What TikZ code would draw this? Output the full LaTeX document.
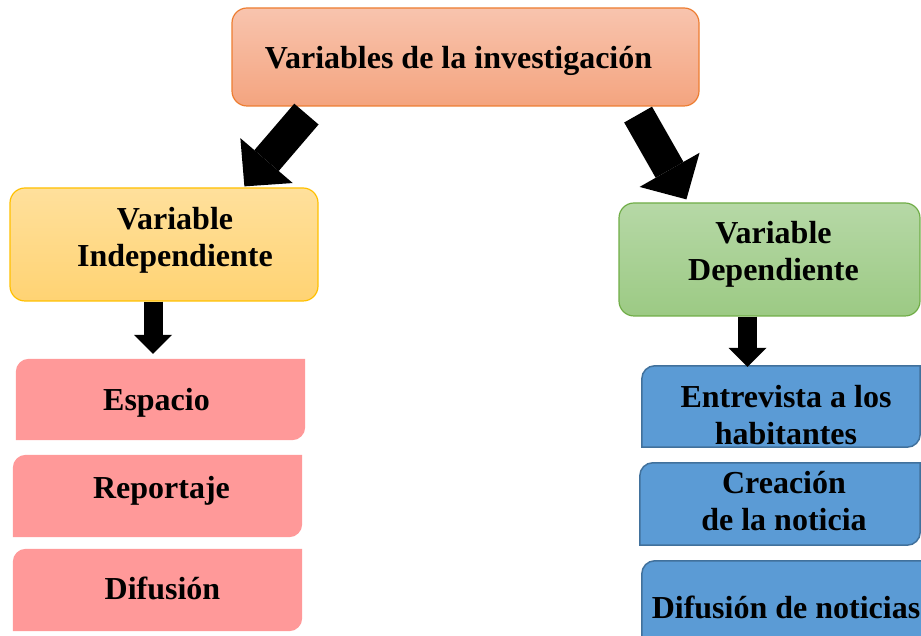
\documentclass[tikz,border=0pt]{standalone}
\usepackage{fontspec}
\setmainfont{Liberation Serif}
\usetikzlibrary{arrows.meta,backgrounds}

\definecolor{titleTop}{HTML}{F8C4AE}
\definecolor{titleBot}{HTML}{F4A47F}
\definecolor{titleLine}{HTML}{ED7D31}
\definecolor{indTop}{HTML}{FFE09C}
\definecolor{indBot}{HTML}{FFD373}
\definecolor{indLine}{HTML}{FFC000}
\definecolor{depTop}{HTML}{B6D8A6}
\definecolor{depBot}{HTML}{9CCA84}
\definecolor{depLine}{HTML}{70AD47}
\definecolor{pinkFill}{HTML}{FF9999}
\definecolor{blueFill}{HTML}{5B9BD5}
\definecolor{blueLine}{HTML}{41719C}

\begin{document}
\begin{tikzpicture}
[x=1pt,y=1pt,%
  every node/.style={inner sep=0pt,align=center,
    font=\fontsize{32}{37}\selectfont\bfseries},%
  varbox/.style={rounded corners=15pt,line width=1.2pt},%
  pinkleaf/.style={fill=pinkFill},%
  blueleaf/.style={fill=blueFill,draw=blueLine,line width=1.5pt},%
  bigarrow/.style={line width=32pt,
    -{Triangle[width=69pt,length=34pt,line width=0pt]}},%
  downarrow/.style={line width=19pt,
    -{Triangle[width=38pt,length=19pt,line width=0pt]}}]
\useasboundingbox (0,0) rectangle (921,636);
\node[varbox,draw=titleLine,top color=titleTop,bottom color=titleBot,
  minimum width=467pt,minimum height=98pt] (title) at (465.5,579) {};
\node (titleText) at ([shift={(-7,-4)}]title.center)
  {Variables de la investigación};
%%
\node[varbox,draw=indLine,top color=indTop,bottom color=indBot,
  minimum width=308pt,minimum height=113pt] (indep) at (164,391.5) {};
\node (indepText) at ([shift={(11,4)}]indep.center)
  {Variable\\Independiente};
\node[varbox,draw=depLine,top color=depTop,bottom color=depBot,
  minimum width=301pt,minimum height=113pt] (dep) at (769.5,376.5) {};
\node (depText) at ([shift={(4,5)}]dep.center)
  {Variable\\Dependiente};
%%
\node[minimum width=289pt,minimum height=81pt] (esp) at (160.5,236.5) {};
\node (espText) at ([shift={(-4,-3)}]esp.center) {Espacio};
\node[minimum width=289pt,minimum height=82pt] (rep) at (157.5,140) {};
\node (repText) at ([shift={(4,5)}]rep.center) {Reportaje};
\node[minimum width=289pt,minimum height=82pt] (dif) at (157.5,46) {};
\node (difText) at ([shift={(5,2)}]dif.center) {Difusión};
%%
\node[minimum width=278pt,minimum height=81pt] (ent) at (781,229.5) {};
\node (entText) at ([shift={(5,-9)}]ent.center) {Entrevista a los\\habitantes};
\node[minimum width=280pt,minimum height=82pt] (cre) at (780,132) {};
\node (creText) at ([shift={(4,3)}]cre.center) {Creación\\de la noticia};
\node[minimum width=288pt,minimum height=95pt] (difn) at (786,27.5) {};
\node (difnText) at ([shift={(0,1)}]difn.center) {Difusión de noticias};
%%
\begin{scope}[on background layer]
\foreach \leaf/\look in {esp/pinkleaf, rep/pinkleaf, dif/pinkleaf,
  ent/blueleaf, cre/blueleaf, difn/blueleaf}
{
  \path[\look] (\leaf.south west) -- ([yshift=-13pt]\leaf.north west)
    arc[start angle=180,end angle=90,radius=13pt] -- (\leaf.north east)
    -- ([yshift=13pt]\leaf.south east)
    arc[start angle=0,end angle=-90,radius=13pt] -- cycle;
}
\end{scope}
%%
\draw[bigarrow] ([shift={(75,-7.5)}]title.south west)
  -- ([shift={(235,1)}]indep.north west);
\draw[bigarrow] ([shift={(-61.5,-8)}]title.south east)
  -- ([shift={(68,3)}]dep.north west);
\draw[downarrow] ([xshift=-11pt]indep.south) -- ([shift={(-7.5,5)}]esp.north);
\draw[downarrow] ([xshift=-22pt]dep.south) -- ([shift={(-33.5,-1)}]ent.north);
\end{tikzpicture}
\end{document}
